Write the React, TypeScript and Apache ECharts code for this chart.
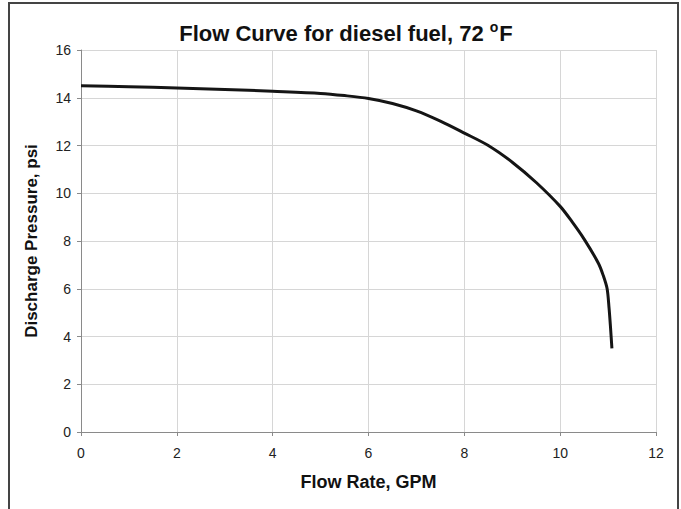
import React, { useEffect, useRef } from "react";
import * as echarts from "echarts";

const flowRate = [0, 1, 2, 3, 4, 5, 5.5, 6, 6.5, 7, 7.5, 8, 8.5, 9, 9.5, 10, 10.25, 10.5, 10.8, 10.9, 10.98, 11.02, 11.05, 11.08];
const pressure = [14.5, 14.46, 14.41, 14.35, 14.27, 14.18, 14.09, 13.97, 13.76, 13.45, 13.02, 12.52, 12.0, 11.3, 10.45, 9.45, 8.8, 8.08, 7.06, 6.55, 6.0, 5.2, 4.4, 3.5];

const titleMain = "Flow Curve for diesel fuel, 72 ";
const xName = "Flow Rate, GPM";
const yName = "Discharge Pressure, psi";

export default function App() {
  const ref = useRef<HTMLDivElement>(null);
  useEffect(() => {
    if (!ref.current) return;
    const chart = echarts.init(ref.current, undefined, { renderer: "svg" });
    const font = "'Liberation Sans', Arial, sans-serif";
    chart.setOption({
      animation: false,
      backgroundColor: "#ffffff",
      title: {
        text: titleMain + "{sup|o}F",
        left: 341,
        textAlign: "center",
        top: 15,
        textStyle: {
          fontFamily: font,
          fontSize: 22,
          fontWeight: "bold",
          color: "#111",
          rich: {
            sup: {
              fontFamily: font,
              fontSize: 14,
              fontWeight: "bold",
              color: "#111",
              padding: [0, 1, 13, 0],
            },
          },
        },
      },
      graphic: [
        {
          type: "rect",
          shape: { x: 9, y: 3, width: 669, height: 530 },
          style: { fill: "none", stroke: "#444", lineWidth: 2 },
          silent: true,
        },
      ],
      grid: { left: 81, top: 50, right: 25, bottom: 77 },
      xAxis: {
        type: "value",
        min: 0,
        max: 12,
        interval: 2,
        name: xName,
        nameLocation: "middle",
        nameGap: 41,
        nameTextStyle: { fontFamily: font, fontSize: 18, fontWeight: "bold", color: "#111" },
        axisLine: { show: true, lineStyle: { color: "#8a8a8a", width: 1 } },
        axisTick: { show: true, length: 4, lineStyle: { color: "#8a8a8a" } },
        axisLabel: { fontFamily: font, fontSize: 14, color: "#222", margin: 14 },
        splitLine: { show: true, lineStyle: { color: "#d6d6d6", width: 1 } },
      },
      yAxis: {
        type: "value",
        min: 0,
        max: 16,
        interval: 2,
        name: yName,
        nameLocation: "middle",
        nameGap: 41,
        nameTextStyle: { fontFamily: font, fontSize: 17, fontWeight: "bold", color: "#111" },
        axisLine: { show: true, lineStyle: { color: "#8a8a8a", width: 1 } },
        axisTick: { show: true, length: 4, lineStyle: { color: "#8a8a8a" } },
        axisLabel: { fontFamily: font, fontSize: 14, color: "#222", margin: 10 },
        splitLine: { show: true, lineStyle: { color: "#d6d6d6", width: 1 } },
      },
      series: [
        {
          type: "line",
          data: flowRate.map((x, i) => [x, pressure[i]]),
          showSymbol: false,
          smooth: 0.3,
          lineStyle: { color: "#151515", width: 3 },
        },
      ],
    });
    return () => chart.dispose();
  }, []);
  return (
    <div
      ref={ref}
      style={{ position: "absolute", left: 0, top: 0, width: 681, height: 509 }}
    />
  );
}
